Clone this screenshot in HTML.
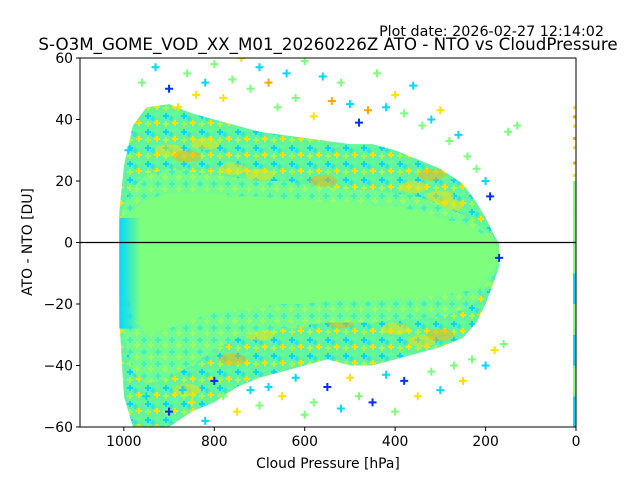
<!DOCTYPE html>
<html><head><meta charset="utf-8">
<style>
html,body{margin:0;padding:0;background:#fff;}
svg{display:block;font-family:"DejaVu Sans","Liberation Sans",sans-serif;}
</style></head>
<body>
<svg id="chart" width="640" height="480" viewBox="0 0 640 480">
<defs>
<pattern id="pOuter" width="18" height="16" patternUnits="userSpaceOnUse">
<rect width="18" height="16" fill="#62f2a0"/>
<path d="M4 1v6M1 4h6" stroke="#00d4ff" stroke-width="2"/>
<path d="M13 8v6M10 11h6" stroke="#ffe000" stroke-width="2"/>
<path d="M13 0v4M10 2h6" stroke="#60ff90" stroke-width="2"/>
<path d="M4 9v6M1 12h6" stroke="#a0ff50" stroke-width="2"/>
<path d="M9 4v5M6.5 6.5h5" stroke="#30e8d0" stroke-width="2"/>
</pattern>
<pattern id="pMid" width="14" height="12" patternUnits="userSpaceOnUse">
<rect width="14" height="12" fill="#74fb90"/>
<path d="M4 1v6M1 4h6" stroke="#40f0c0" stroke-width="2"/>
<path d="M11 6v6M8 9h6" stroke="#98ff68" stroke-width="2"/>
</pattern>
<linearGradient id="cyanEdge" x1="0" x2="1" y1="0" y2="0">
<stop offset="0" stop-color="#00d8ff"/><stop offset="1" stop-color="#00d8ff" stop-opacity="0"/>
</linearGradient>
</defs>
<text x="604" y="36" font-size="14.3" text-anchor="end">Plot date: 2026-02-27 12:14:02</text>
<text x="328" y="50" font-size="16.7" text-anchor="middle">S-O3M_GOME_VOD_XX_M01_20260226Z ATO - NTO vs CloudPressure</text>
<g id="plot"></g>
<rect x="80" y="58" width="496" height="369" fill="none" stroke="#000" stroke-width="1"/>
<g id="axes"></g>
<text x="328" y="468" font-size="13.9" text-anchor="middle">Cloud Pressure [hPa]</text>
<text x="32" y="242" font-size="13.9" text-anchor="middle" transform="rotate(-90 32 242)">ATO - NTO [DU]</text>
</svg>
<script>
const pressureBins=[1010,1000,980,950,900,850,800,750,700,650,600,550,500,450,400,350,300,250,220,200,180,170];
const outerUpper=[10,25,38,44,45,42,40,38,36,35,34,33,32,32,30,27,24,19,13,8,2,0];
const outerLower=[-25,-50,-60,-62,-60,-55,-52,-47,-44,-42,-40,-38,-40,-40,-38,-36,-34,-31,-26,-20,-12,-8];
const midUpper=[5,12,18,22,24,23,22,21,20,20,19,18,17,17,16,15,12,9,6,4,1,0];
const midLower=[-18,-30,-42,-46,-44,-40,-35,-31,-29,-28,-27,-26,-26,-26,-25,-25,-24,-22,-19,-15,-10,-8];
const coreUpper=[3,6,10,14,16,16,16,15,15,14,14,13,13,12,12,10,8,6,4,2,0,-2];
const coreLower=[-8,-12,-24,-30,-28,-25,-23,-22,-21,-20,-20,-19,-19,-19,-18,-18,-17,-16,-15,-12,-9,-6];
const outP=[990,960,930,900,880,860,840,820,800,780,760,740,720,700,680,660,640,620,600,580,560,540,520,500,480,460,440,420,400,380,360,340,320,300,280,260,240,220,200,190,170,150,130,950,900,870,850,820,800,780,750,720,700,680,650,620,600,580,550,520,500,480,450,420,400,380,350,320,300,270,250,230,200,180,160];
const outV=[30,52,57,50,44,55,48,52,58,47,53,60,50,57,52,44,55,47,59,41,54,46,52,45,39,43,55,44,48,42,51,38,40,43,33,35,28,24,20,15,-5,36,38,-50,-55,-48,-52,-58,-45,-50,-55,-48,-53,-47,-50,-44,-56,-52,-47,-54,-44,-50,-52,-43,-55,-45,-50,-42,-48,-40,-45,-38,-40,-35,-33];
const outC=["c","g","c","b","y","g","y","c","g","y","g","y","g","c","o","g","c","g","g","y","c","o","g","c","b","o","g","c","y","g","c","g","c","y","g","c","g","g","c","b","b","g","g","c","b","c","y","c","b","g","y","c","g","c","y","c","g","g","b","c","y","g","b","c","g","b","y","g","c","g","y","g","c","y","g"];
const yBlobP=[900,860,820,760,700,560,520,480,360,320,300,280,860,760,700,620,560,520,480,400,340,300];
const yBlobV=[30,28,32,24,22,20,-22,-24,18,22,15,12,-48,-38,-30,-26,-24,-26,-22,-28,-32,-30];
const colMap={c:"#00d8ff",g:"#7cff7c",y:"#ffe000",o:"#ffa800",b:"#0030ff"};
const xTicks=[1000,800,600,400,200,0];
const yTicks=[-60,-40,-20,0,20,40,60];
function xS(p){return 576-p*(496/1097);}
function yS(v){return 242.5-v*(369/120);}
const NS="http://www.w3.org/2000/svg";
const plot=document.getElementById('plot');
const axes=document.getElementById('axes');
const clip=document.createElementNS(NS,'clipPath');clip.setAttribute('id','cl');
const cr=document.createElementNS(NS,'rect');cr.setAttribute('x',80);cr.setAttribute('y',58);cr.setAttribute('width',496);cr.setAttribute('height',369);
clip.appendChild(cr);document.querySelector('defs').appendChild(clip);
plot.setAttribute('clip-path','url(#cl)');
function band(up,lo,fill,name){
  let pts=[];
  for(let i=0;i<pressureBins.length;i++)pts.push(xS(pressureBins[i]).toFixed(1)+','+yS(up[i]).toFixed(1));
  for(let i=pressureBins.length-1;i>=0;i--)pts.push(xS(pressureBins[i]).toFixed(1)+','+yS(lo[i]).toFixed(1));
  const pg=document.createElementNS(NS,'polygon');
  pg.setAttribute('points',pts.join(' '));pg.setAttribute('fill',fill);
  
  
  plot.appendChild(pg);
  return pg;
}
function plus(p,v,col,name){
  const x=xS(p),y=yS(v);
  const pa=document.createElementNS(NS,'path');
  pa.setAttribute('d',`M${x-4} ${y}h8M${x} ${y-4}v8`);
  pa.setAttribute('stroke',col);pa.setAttribute('stroke-width','2');
  
  
  plot.appendChild(pa);
}
band(outerUpper,outerLower,'url(#pOuter)','outer-cloud');
for(let i=0;i<yBlobP.length;i++){
  const c=document.createElementNS(NS,'ellipse');
  c.setAttribute('cx',xS(yBlobP[i]));c.setAttribute('cy',yS(yBlobV[i]));
  c.setAttribute('rx',14);c.setAttribute('ry',6);
  c.setAttribute('fill',i%4==1?'#ffb000':'#ffe000');c.setAttribute('opacity','0.5');
  
  
  plot.appendChild(c);
}
band(midUpper,midLower,'url(#pMid)','mid-cloud');
band(coreUpper,coreLower,'#7dff7d','core-cloud');
// cyan edge near surface pressure
const er=document.createElementNS(NS,'rect');
er.setAttribute('x',xS(1010));er.setAttribute('y',yS(8));er.setAttribute('width',22);er.setAttribute('height',yS(-28)-yS(8));
er.setAttribute('fill','url(#cyanEdge)');


plot.appendChild(er);
for(let i=0;i<outP.length;i++)plus(outP[i],outV[i],colMap[outC[i]],'outlier-point');
// column at zero pressure
const zeroV=[-60,-50,-40,-30,-20,-10,0,10];
const zeroC=["c","g","c","g","c","g","g","g"];
for(let i=0;i<zeroV.length;i++){
  const r=document.createElementNS(NS,'rect');
  r.setAttribute('x',xS(0)-3);r.setAttribute('y',yS(zeroV[i]+10));r.setAttribute('width',5);r.setAttribute('height',yS(zeroV[i])-yS(zeroV[i]+10));
  r.setAttribute('fill',colMap[zeroC[i]]);
  
  
  plot.appendChild(r);
}
const zeroTop=[22,26,31,34,38,41,44];
zeroTop.forEach((v,i)=>{
  const r=document.createElementNS(NS,'rect');
  r.setAttribute('x',xS(0)-3);r.setAttribute('y',yS(v)-1);r.setAttribute('width',5);r.setAttribute('height',3);
  r.setAttribute('fill',i%2?'#ffa800':'#ffe000');
  
  
  plot.appendChild(r);
});
const zl=document.createElementNS(NS,'line');
zl.setAttribute('x1',80);zl.setAttribute('x2',576);zl.setAttribute('y1',yS(0));zl.setAttribute('y2',yS(0));
zl.setAttribute('stroke','#000');zl.setAttribute('stroke-width','1.2');


plot.appendChild(zl);
xTicks.forEach(t=>{
  const x=xS(t);
  const l=document.createElementNS(NS,'line');
  l.setAttribute('x1',x);l.setAttribute('x2',x);l.setAttribute('y1',427);l.setAttribute('y2',431);l.setAttribute('stroke','#000');
  
  
  axes.appendChild(l);
  const tx=document.createElementNS(NS,'text');
  tx.setAttribute('x',x);tx.setAttribute('y',446);tx.setAttribute('font-size','13.9');tx.setAttribute('text-anchor','middle');
  tx.textContent=t;
  
  
  axes.appendChild(tx);
});
yTicks.forEach(t=>{
  const y=yS(t);
  const l=document.createElementNS(NS,'line');
  l.setAttribute('x1',76);l.setAttribute('x2',80);l.setAttribute('y1',y);l.setAttribute('y2',y);l.setAttribute('stroke','#000');
  
  
  axes.appendChild(l);
  const tx=document.createElementNS(NS,'text');
  tx.setAttribute('x',73);tx.setAttribute('y',y+5);tx.setAttribute('font-size','13.9');tx.setAttribute('text-anchor','end');
  tx.textContent=t<0?'\u2212'+Math.abs(t):t;
  
  
  axes.appendChild(tx);
});
</script>
</body></html>
